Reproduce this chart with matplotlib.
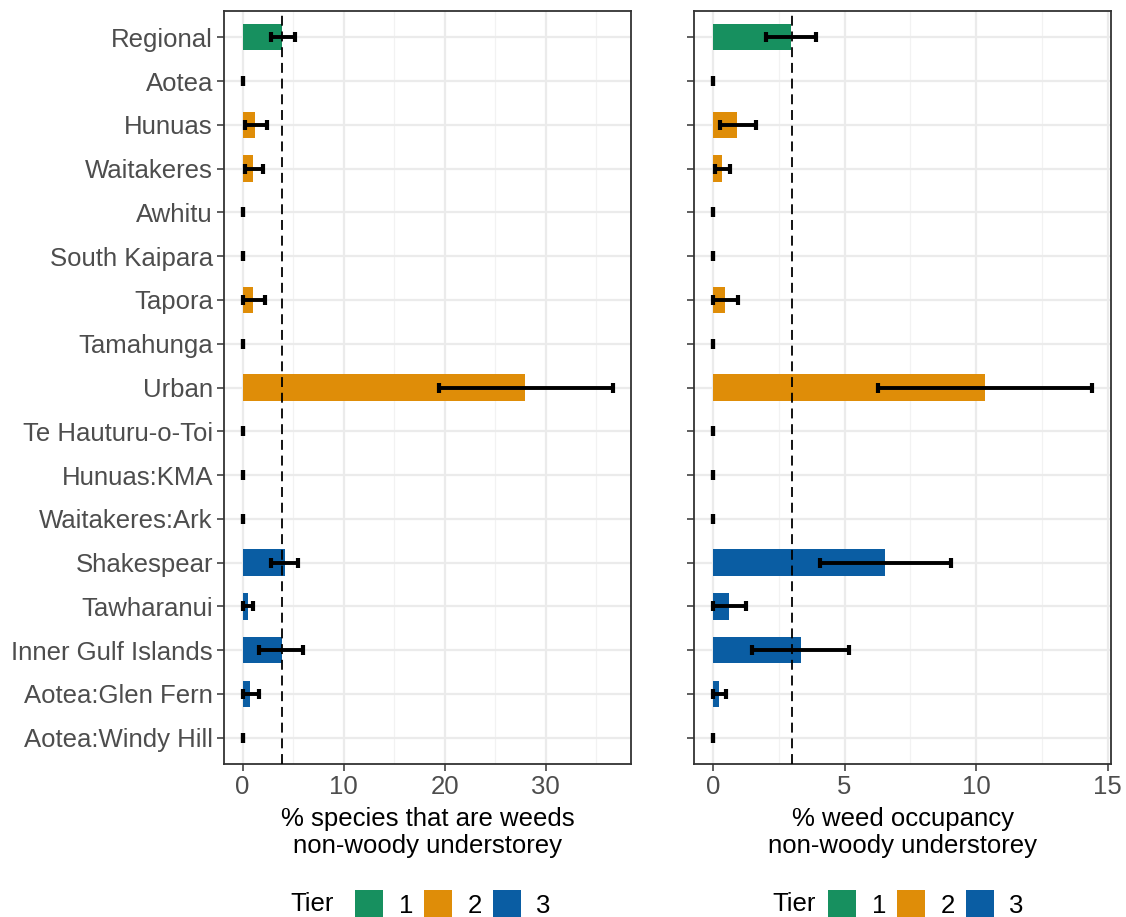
import matplotlib
matplotlib.use("Agg")
import matplotlib.pyplot as plt
from matplotlib.patches import Patch

plt.rcParams['font.family'] = ['Liberation Sans', 'DejaVu Sans']

# sites, top to bottom, with their management tier
sites = ["Regional", "Aotea", "Hunuas", "Waitakeres", "Awhitu", "South Kaipara",
         "Tapora", "Tamahunga", "Urban", "Te Hauturu-o-Toi", "Hunuas:KMA",
         "Waitakeres:Ark", "Shakespear", "Tawharanui", "Inner Gulf Islands",
         "Aotea:Glen Fern", "Aotea:Windy Hill"]
tier = [1, 2, 2, 2, 2, 2, 2, 2, 2, 3, 3, 3, 3, 3, 3, 3, 3]

# % species that are weeds (non-woody understorey)
sp_mean = [3.95, 0, 1.28, 1.08, 0, 0, 1.02, 0, 27.9, 0, 0, 0, 4.2, 0.5, 3.9, 0.7, 0]
sp_low = [2.8, 0, 0.23, 0.23, 0, 0, 0.0, 0, 19.45, 0, 0, 0, 2.8, 0.0, 1.67, 0.0, 0]
sp_high = [5.15, 0, 2.4, 2.0, 0, 0, 2.2, 0, 36.6, 0, 0, 0, 5.5, 1.0, 5.94, 1.6, 0]
sp_ref = 3.9

# % weed occupancy (non-woody understorey)
occ_mean = [2.97, 0, 0.92, 0.34, 0, 0, 0.44, 0, 10.33, 0, 0, 0, 6.55, 0.62, 3.34, 0.24, 0]
occ_low = [2.0, 0, 0.28, 0.09, 0, 0, 0.0, 0, 6.27, 0, 0, 0, 4.05, 0.0, 1.49, 0.0, 0]
occ_high = [3.93, 0, 1.62, 0.63, 0, 0, 0.95, 0, 14.4, 0, 0, 0, 9.05, 1.25, 5.18, 0.5, 0]
occ_ref = 3.0

tier_colors = {1: "#17905F", 2: "#DF8D08", 3: "#0A5DA3"}
FS = 18.5

W, H = 1126, 917
fig = plt.figure(figsize=(W / 100, H / 100), dpi=100)


def panel(left, right, top, bottom):
    return fig.add_axes([left / W, 1 - bottom / H, (right - left) / W, (bottom - top) / H])


def draw(ax, mean, low, high, ref, major, minor, xlabel, show_labels):
    y = list(range(len(sites)))
    colors = [tier_colors[t] for t in tier]
    ax.barh(y, mean, height=0.6, color=colors, linewidth=0, zorder=2)
    xerr = [[m - l for m, l in zip(mean, low)], [h - m for m, h in zip(mean, high)]]
    ax.errorbar(mean, y, xerr=xerr, fmt="none", ecolor="black", elinewidth=2.8,
                capsize=3.4, capthick=3.0, zorder=4)
    ax.axvline(ref, color="black", linestyle=(0, (5.5, 3.2)), linewidth=1.3, zorder=3)

    top = max(high)
    ax.set_xlim(-0.05 * top, top * 1.05)
    ax.set_ylim(len(sites) - 0.4, -0.6)
    ax.set_xticks(major)
    ax.set_xticks(minor, minor=True)
    ax.set_yticks(y)
    ax.set_yticklabels(sites if show_labels else [])
    ax.tick_params(axis="both", which="major", length=5, width=1.1, color="#333333",
                   labelsize=FS, labelcolor="#4D4D4D", pad=3)
    ax.tick_params(axis="x", which="minor", length=0)
    ax.grid(True, which="major", color="#EBEBEB", linewidth=1.6, zorder=0)
    ax.grid(True, which="minor", axis="x", color="#F2F2F2", linewidth=0.9, zorder=0)
    ax.set_axisbelow(True)
    for s in ax.spines.values():
        s.set_color("#333333")
        s.set_linewidth(1.3)
    ax.set_xlabel(xlabel, fontsize=FS, color="black", labelpad=6, linespacing=1.12)


ax1 = panel(224, 631, 11, 764)
draw(ax1, sp_mean, sp_low, sp_high, sp_ref, [0, 10, 20, 30], [5, 15, 25, 35],
     "% species that are weeds\nnon-woody understorey", True)

ax2 = panel(694, 1111, 11, 764)
draw(ax2, occ_mean, occ_low, occ_high, occ_ref, [0, 5, 10, 15], [2.5, 7.5, 12.5],
     "% weed occupancy\nnon-woody understorey", False)

# tier legends under each panel
handles = [Patch(facecolor=tier_colors[t], edgecolor="none", label=str(t)) for t in (1, 2, 3)]
for tier_x, leg_x in ((290, 355), (772, 828)):
    fig.text(tier_x / W, 1 - 904 / H, "Tier", fontsize=FS, va="center", ha="left")
    fig.legend(handles=handles, loc="center left", ncol=3, frameon=False,
               bbox_to_anchor=(leg_x / W, 1 - 904 / H), fontsize=FS,
               handlelength=1.1, handleheight=1.25, handletextpad=0.6,
               columnspacing=0.42, borderaxespad=0, borderpad=0)

fig.savefig("out.png", dpi=100)
